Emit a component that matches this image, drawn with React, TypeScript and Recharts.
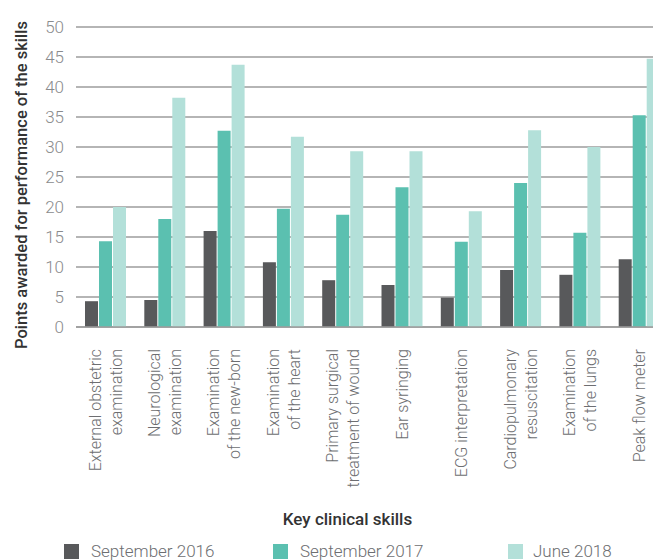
import React from "react";
import { BarChart, Bar, XAxis, YAxis, CartesianGrid, Legend } from "recharts";

// Skill names, split into the lines shown under the axis
const skillLines: string[][] = [
  ["External obstetric", "examination"],
  ["Neurological", "examination"],
  ["Examination", "of the new-born"],
  ["Examination", "of the heart"],
  ["Primary surgical", "treatment of wound"],
  ["Ear syringing"],
  ["ECG interpretation"],
  ["Cardiopulmonary", "resuscitation"],
  ["Examination", "of the lungs"],
  ["Peak flow meter"],
];

const sep2016 = [4.3, 4.5, 16.0, 10.8, 7.8, 7.0, 4.9, 9.5, 8.7, 11.3];
const sep2017 = [14.3, 18.0, 32.7, 19.7, 18.7, 23.3, 14.2, 24.0, 15.7, 35.3];
const jun2018 = [20.0, 38.2, 43.7, 31.7, 29.3, 29.3, 19.3, 32.8, 30.0, 44.7];

const yTicks = [0, 5, 10, 15, 20, 25, 30, 35, 40, 45, 50];

const series = [
  { key: "sep2016", name: "September 2016", color: "#58595b" },
  { key: "sep2017", name: "September 2017", color: "#5bc0b0" },
  { key: "jun2018", name: "June 2018", color: "#b3e0d9" },
];

const data = skillLines.map((lines, i) => ({
  skill: lines.join(" "),
  sep2016: sep2016[i],
  sep2017: sep2017[i],
  jun2018: jun2018[i],
}));

const FONT = "Roboto, 'Open Sans', sans-serif";

const SkillTick = (props: any) => {
  const { x, y, index } = props;
  const lines = skillLines[index] || [];
  const step = 21;
  return (
    <g transform={`translate(${x},${y + 14}) rotate(-90)`}>
      {lines.map((line, i) => (
        <text
          key={i}
          x={0}
          y={(i - (lines.length - 1) / 2) * step}
          dy="0.35em"
          textAnchor="end"
          fill="#6d6e71"
          fontSize={16}
          fontWeight={300}
          fontFamily={FONT}
        >
          {line}
        </text>
      ))}
    </g>
  );
};

const YTitle = () => (
  <text
    transform="translate(21,185) rotate(-90)"
    textAnchor="middle"
    dominantBaseline="central"
    fill="#333"
    fontSize={16.5}
    fontWeight={500}
    fontFamily={FONT}
  >
    Points awarded for performance of the skills
  </text>
);

const LegendRow = () => {
  const pos = [
    { sq: 64, txt: 91 },
    { sq: 273, txt: 300 },
    { sq: 508, txt: 533 },
  ];
  return (
    <div style={{ position: "relative", width: 653, height: 24, fontFamily: FONT }}>
      {series.map((s, i) => (
        <React.Fragment key={s.key}>
          <div
            style={{
              position: "absolute",
              left: pos[i].sq,
              top: 4,
              width: 15,
              height: 15,
              background: s.color,
            }}
          />
          <div
            style={{
              position: "absolute",
              left: pos[i].txt,
              top: 1,
              fontSize: 17,
              fontWeight: 300,
              color: "#6d6e71",
              lineHeight: "20px",
              whiteSpace: "nowrap",
            }}
          >
            {s.name}
          </div>
        </React.Fragment>
      ))}
    </div>
  );
};

export default function App() {
  return (
    <div
      style={{
        position: "absolute",
        left: 0,
        top: 0,
        width: 653,
        height: 560,
        overflow: "hidden",
        background: "#fff",
      }}
    >
      <BarChart
        width={669}
        height={560}
        data={data}
        margin={{ top: 27, right: 0, left: 0, bottom: 0 }}
        barSize={13}
        barGap={1}
      >
        <CartesianGrid vertical={false} stroke="#9d9d9d" strokeWidth={1.5} />
        <XAxis
          dataKey="skill"
          height={233}
          interval={0}
          tickLine={false}
          axisLine={{ stroke: "#9d9d9d", strokeWidth: 1.5 }}
          tick={<SkillTick />}
          label={{
            value: "Key clinical skills",
            position: "insideBottom",
            offset: 35,
            dx: -25,
            fill: "#333",
            fontSize: 17,
            fontWeight: 500,
            fontFamily: FONT,
          }}
        />
        <YAxis
          width={76}
          domain={[0, 50]}
          ticks={yTicks}
          interval={0}
          tickLine={false}
          axisLine={false}
          tickSize={0}
          tickMargin={12}
          tick={{ fill: "#8a8b8d", fontSize: 17, fontWeight: 300, fontFamily: FONT }}
          label={<YTitle />}
        />
        <Legend
          layout="horizontal"
          verticalAlign="middle"
          align="center"
          wrapperStyle={{ top: 540, left: 0, width: 653 }}
          content={() => <LegendRow />}
        />
        {series.map((s) => (
          <Bar
            key={s.key}
            dataKey={s.key}
            name={s.name}
            fill={s.color}
            isAnimationActive={false}
          />
        ))}
      </BarChart>
    </div>
  );
}
